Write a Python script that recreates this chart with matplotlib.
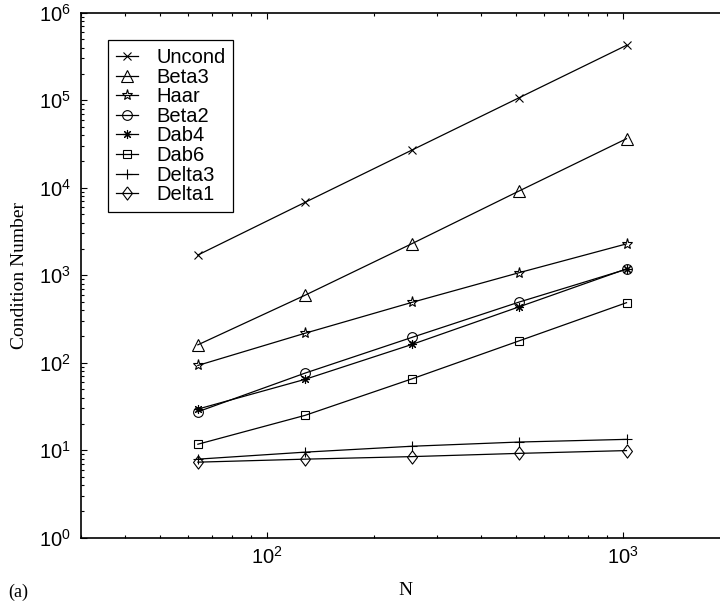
import matplotlib
matplotlib.use("Agg")
import matplotlib.pyplot as plt
from matplotlib.ticker import LogLocator, NullFormatter

plt.rcParams['font.family'] = ['Liberation Sans', 'DejaVu Sans']
plt.rcParams['mathtext.fontset'] = 'custom'
plt.rcParams['mathtext.rm'] = 'Liberation Sans'

# problem sizes
N = [64, 128, 256, 512, 1024]

# condition numbers
uncond = [1700, 6800, 27000, 107000, 424000]
beta3 = [160, 590, 2300, 9200, 36300]
haar = [93, 217, 490, 1070, 2280]
beta2 = [27.5, 76, 195, 494, 1170]
dab4 = [29.5, 64.5, 162, 436, 1180]
dab6 = [11.7, 25, 65.5, 178, 485]
delta3 = [7.9, 9.5, 11.1, 12.4, 13.3]
delta1 = [7.3, 7.9, 8.45, 9.2, 9.9]

names = ['Uncond', 'Beta3', 'Haar', 'Beta2', 'Dab4', 'Dab6', 'Delta3', 'Delta1']
series = [uncond, beta3, haar, beta2, dab4, dab6, delta3, delta1]

diamond = [(0, 1), (0.75, 0), (0, -1), (-0.75, 0), (0, 1)]
styles = [('x', 6), ('^', 8.5), ('*', 8), ('o', 7), ((8, 2, 0), 6.5),
          ('s', 5.5), ('+', 7), (diamond, 9.5)]

fig = plt.figure(figsize=(7.2, 6.05), dpi=100)
ax = fig.add_axes([80.7 / 720, 1 - 537.7 / 605, (730 - 80.7) / 720, 525 / 605])

for name, vals, (mk, ms) in zip(names, series, styles):
    ax.plot(N, vals, color='black', lw=0.9, marker=mk, ms=ms,
            mfc='none', mec='black', mew=0.8, label=name)

ax.set_xscale('log')
ax.set_yscale('log')
ax.set_xlim(30, 2000)
ax.set_ylim(1, 1e6)

ax.yaxis.set_major_locator(LogLocator(base=10, numticks=10))
ax.yaxis.set_minor_locator(LogLocator(base=10, subs=range(2, 10), numticks=20))
ax.yaxis.set_minor_formatter(NullFormatter())
ax.xaxis.set_minor_formatter(NullFormatter())

ax.tick_params(which='both', direction='in', top=True, right=True, labelsize=14.5)
ax.tick_params(which='major', length=4.5, width=0.8)
ax.tick_params(which='minor', length=2.2, width=0.8)
ax.tick_params(axis='y', pad=7)
ax.tick_params(axis='x', pad=6)
for s in ax.spines.values():
    s.set_linewidth(1.2)

ax.set_xlabel('N', family='Liberation Serif', fontsize=14, labelpad=10)
ax.set_ylabel('Condition Number', family='Liberation Serif', fontsize=14, labelpad=8)
fig.text(8 / 720, 1 - 592 / 605, '(a)', family='Liberation Serif', fontsize=13, va='center')

leg = ax.legend(loc='upper left', bbox_to_anchor=(107.7 / 720, 1 - 40 / 605),
                bbox_transform=fig.transFigure, borderaxespad=0, fontsize=14.5,
                fancybox=False, framealpha=1, edgecolor='black', labelspacing=0.03,
                handlelength=1.1, handletextpad=0.9, borderpad=0.4)
leg.get_frame().set_linewidth(0.9)

fig.savefig('out.png', dpi=100)
